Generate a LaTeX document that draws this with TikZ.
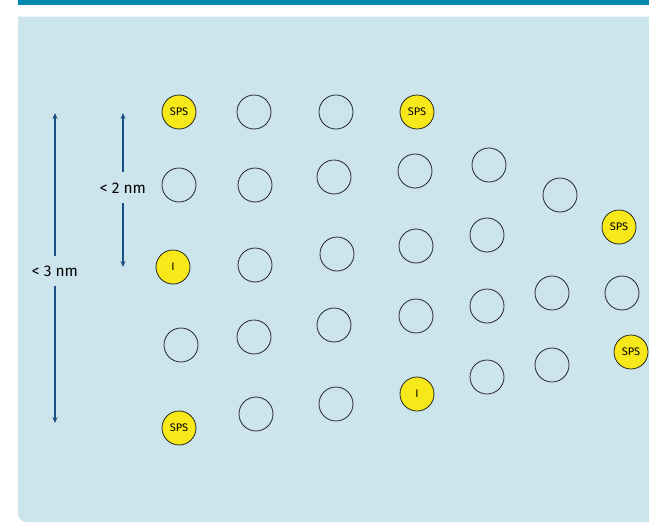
\documentclass[tikz,border=0pt]{standalone}
\usepackage{fontspec}
\setmainfont{Fira Sans}
\usetikzlibrary{arrows.meta}
\definecolor{barteal}{HTML}{0088AE}
\definecolor{panelblue}{HTML}{CCE4EC}
\definecolor{arrowblue}{HTML}{1B4F84}
\definecolor{spsyellow}{HTML}{F7E819}
\tikzset{
  site/.style={circle, draw=black!85, line width=0.8pt, minimum size=34pt, inner sep=0pt},
  empty/.style={site},
  sps/.style={site, fill=spsyellow, font=\fontsize{11}{12}\selectfont},
  dim/.style={draw=arrowblue, line width=1.2pt, -{Stealth[length=6pt,width=5pt]}},
  dimlabel/.style={font=\fontsize{15.5}{17}\selectfont, inner sep=1pt}
}
\begin{document}
\begin{tikzpicture}[x=1pt,y=-1pt]
\useasboundingbox (0,0) rectangle (649,525);
% header bar and panel
\fill[barteal] (18,0) rectangle (649,5);
\fill[panelblue] (649,16.5) -- (18,16.5) -- (18,513)
  .. controls (18,518) and (21,522) .. (27,522) -- (649,522) -- cycle;

% column 1
\node[sps]   (a1) at (179,112) {SPS};
\node[empty] (a2) at (179,185) {};
\node[sps]   (a3) at (173,267) {I};
\node[empty] (a4) at (181,345) {};
\node[sps]   (a5) at (179,428) {SPS};
% column 2
\node[empty] (b1) at (254,112) {};
\node[empty] (b2) at (255,185) {};
\node[empty] (b3) at (255,265) {};
\node[empty] (b4) at (254,337) {};
\node[empty] (b5) at (256,414) {};
% column 3
\node[empty] (c1) at (336,112) {};
\node[empty] (c2) at (334,177) {};
\node[empty] (c3) at (337,254) {};
\node[empty] (c4) at (334,325) {};
\node[empty] (c5) at (336,404) {};
% column 4
\node[sps]   (d1) at (417,112) {SPS};
\node[empty] (d2) at (415,171) {};
\node[empty] (d3) at (416,246) {};
\node[empty] (d4) at (416,316) {};
\node[sps]   (d5) at (417,394) {I};
% column 5
\node[empty] (e1) at (489,165) {};
\node[empty] (e2) at (487,235) {};
\node[empty] (e3) at (487,306) {};
\node[empty] (e4) at (487,377) {};
% column 6
\node[empty] (f1) at (560,195) {};
\node[empty] (f2) at (552,293) {};
\node[empty] (f3) at (552,365) {};
% column 7
\node[sps]   (g1) at (619,227) {SPS};
\node[empty] (g2) at (622,293) {};
\node[sps]   (g3) at (631,352) {SPS};

% dimension arrows
\node[dimlabel] (l3) at (55,271) {< 3 nm};
\coordinate (t3) at (55,113);
\coordinate (b3end) at (55,423);
\draw[dim] (l3.north |- 0,256) -- (t3);
\draw[dim] (l3.south |- 0,286) -- (b3end);

\node[dimlabel] (l2) at (123,188) {< 2 nm};
\coordinate (t2) at (123,113);
\coordinate (b2end) at (123,267);
\draw[dim] (l2.north |- 0,172) -- (t2);
\draw[dim] (l2.south |- 0,203) -- (b2end);
\end{tikzpicture}
\end{document}
